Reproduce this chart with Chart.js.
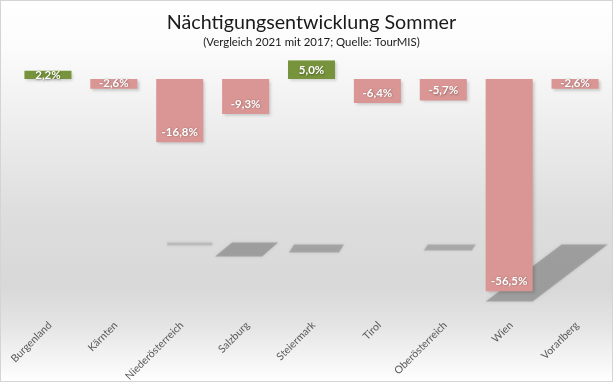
<!DOCTYPE html>
<html>
<head>
<meta charset="utf-8">
<script src="https://cdn.jsdelivr.net/npm/chart.js@4"></script>
<style>
  html, body { margin: 0; padding: 0; background: #fff; }
  #wrap { width: 613px; height: 382px; position: relative; }
  canvas { display: block; }
</style>
</head>
<body>
<div id="wrap"><canvas id="c" width="613" height="382"></canvas></div>
<script>
const categories = ["Burgenland", "Kärnten", "Niederösterreich", "Salzburg", "Steiermark", "Tirol", "Oberösterreich", "Wien", "Vorarlberg"];
const changeValues = [2.2, -2.6, -16.8, -9.3, 5.0, -6.4, -5.7, -56.5, -2.6];
const titleText = "Nächtigungsentwicklung Sommer";
const subtitleText = "(Vergleich 2021 mit 2017; Quelle: TourMIS)";

const GREEN = "#77933C";
const PINK = "#D99694";

const bgPlugin = {
  id: "bg",
  beforeDraw(chart) {
    const { ctx, width, height } = chart;
    ctx.save();
    const g = ctx.createLinearGradient(0, 0, 0, height);
    g.addColorStop(0, "#ffffff");
    g.addColorStop(0.13, "#fbfbfb");
    g.addColorStop(0.55, "#dedede");
    g.addColorStop(0.75, "#d8d8d8");
    g.addColorStop(0.85, "#e4e4e4");
    g.addColorStop(1, "#ffffff");
    ctx.fillStyle = g;
    ctx.fillRect(0, 0, width, height);
    ctx.strokeStyle = "#d4d4d4";
    ctx.lineWidth = 1;
    ctx.strokeRect(0.5, 0.5, width - 1, height - 1);
    ctx.restore();
  }
};

// decorative "floor" shadows (Excel perspective-shadow look), relative to bars
const floorShadow = {
  id: "floorShadow",
  floorValue: -43.5,
  specs: {
    2: { tl: 11, tr: 9, bl: 11, br: 9, depth: 3, dy: 0, color: "rgba(150,150,150,0.35)" },
    3: { tl: 10, tr: 9, bl: -7, br: -7, depth: 14, dy: 0, color: "rgba(120,120,120,0.5)" },
    4: { tl: 6, tr: 9, bl: 1, br: 4, depth: 8, dy: 2, color: "rgba(120,120,120,0.45)" },
    6: { tl: 8, tr: 9, bl: 4, br: 5, depth: 6, dy: 2, color: "rgba(120,120,120,0.4)" },
    7: { tl: 76, tr: 75, bl: 0, br: 0, depth: 57, dy: 2, color: "rgba(120,120,120,0.5)" }
  },
  beforeDatasetsDraw(chart) {
    const ctx = chart.ctx;
    const meta = chart.getDatasetMeta(0);
    const F = chart.scales.y.getPixelForValue(this.floorValue);
    ctx.save();
    ctx.shadowColor = "rgba(120,120,120,0.5)";
    ctx.shadowBlur = 3;
    Object.keys(this.specs).forEach(k => {
      const s = this.specs[k];
      const bar = meta.data[k];
      const L = bar.x - bar.width / 2, R = bar.x + bar.width / 2;
      const top = F + s.dy, bot = F + s.dy + s.depth;
      ctx.fillStyle = s.color;
      ctx.beginPath();
      ctx.moveTo(L + s.tl, top);
      ctx.lineTo(R + s.tr, top);
      ctx.lineTo(R + s.br, bot);
      ctx.lineTo(L + s.bl, bot);
      ctx.closePath();
      ctx.fill();
    });
    ctx.restore();
  }
};

const barShadow = {
  id: "barShadow",
  beforeDatasetsDraw(chart) {
    const ctx = chart.ctx;
    ctx.save();
    ctx.shadowColor = "rgba(0,0,0,0.18)";
    ctx.shadowBlur = 3;
    ctx.shadowOffsetX = 2;
    ctx.shadowOffsetY = 2;
  },
  afterDatasetsDraw(chart) {
    chart.ctx.restore();
  }
};

const labelPlugin = {
  id: "barLabels",
  afterDatasetsDraw(chart) {
    const ctx = chart.ctx;
    const meta = chart.getDatasetMeta(0);
    const ds = chart.data.datasets[0].data;
    ctx.save();
    ctx.font = "bold 11.5px Lato, 'Open Sans', sans-serif";
    ctx.fillStyle = "#ffffff";
    ctx.textAlign = "center";
    ctx.textBaseline = "middle";
    ctx.shadowColor = "rgba(0,0,0,0.35)";
    ctx.shadowBlur = 2;
    ctx.shadowOffsetX = 0.5;
    ctx.shadowOffsetY = 0.5;
    meta.data.forEach((bar, i) => {
      const v = ds[i];
      const h = Math.abs(bar.base - bar.y);
      const off = Math.min(10, h * 0.6);
      const y = v < 0 ? bar.y - off : bar.y + off;
      const txt = v.toFixed(1).replace(".", ",") + "%";
      ctx.fillText(txt, bar.x, y);
    });
    ctx.restore();
  }
};

new Chart(document.getElementById("c"), {
  type: "bar",
  data: {
    labels: categories,
    datasets: [{
      data: changeValues,
      backgroundColor: changeValues.map(v => v >= 0 ? GREEN : PINK),
      borderWidth: 0,
      barPercentage: 0.714,
      categoryPercentage: 1.0
    }]
  },
  options: {
    responsive: false,
    animation: false,
    layout: { padding: { left: 15, right: 5, bottom: 0, top: 0 } },
    plugins: {
      legend: { display: false },
      tooltip: { enabled: false },
      title: {
        display: true,
        text: titleText,
        color: "#1a1a1a",
        font: { family: "Lato, 'Open Sans', sans-serif", size: 19.7, weight: "normal" },
        padding: { top: 11, bottom: 0 }
      },
      subtitle: {
        display: true,
        text: subtitleText,
        color: "#1a1a1a",
        font: { family: "Lato, 'Open Sans', sans-serif", size: 11.4, weight: "normal" },
        padding: { top: 1, bottom: 11 }
      }
    },
    scales: {
      x: {
        grid: { display: false },
        border: { display: false },
        afterFit(scale) { scale.height = 72; },
        ticks: {
          color: "#595959",
          font: { family: "Lato, 'Open Sans', sans-serif", size: 10.5 },
          minRotation: 45,
          maxRotation: 45,
          padding: 1,
          labelOffset: 2
        }
      },
      y: {
        display: false,
        min: -61.5,
        max: 5
      }
    }
  },
  plugins: [bgPlugin, floorShadow, barShadow, labelPlugin]
});
</script>
</body>
</html>
